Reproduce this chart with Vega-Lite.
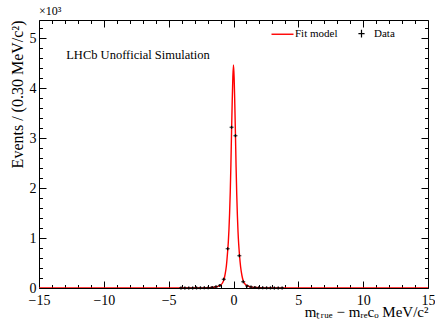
{
  "$schema": "https://vega.github.io/schema/vega-lite/v6.json",
  "width": 389,
  "height": 268,
  "autosize": {"type": "none"},
  "padding": {"left": 39, "top": 20, "right": 7, "bottom": 35},
  "background": "white",
  "title": {"text": "×10³", "anchor": "start", "frame": "group", "font": "Liberation Serif", "fontSize": 12, "fontWeight": "normal", "offset": 2, "color": "black"},
  "config": {
    "view": {"stroke": "black", "strokeWidth": 1},
    "axis": {"domain": false, "grid": false, "labelFont": "Liberation Serif", "titleFont": "Liberation Serif", "labelColor": "black", "titleColor": "black", "tickColor": "black", "labelFontSize": 14, "titleFontSize": 15, "titleFontWeight": "normal", "labelFlush": false, "labelOverlap": false},
    "legend": {"labelFont": "Liberation Serif", "labelFontSize": 11, "labelColor": "black"}
  },
  "datasets": {
    "curve": [
      {"x": -15, "y": 0}, {"x": -4, "y": 0}, {"x": -3, "y": 0.8}, {"x": -2.5, "y": 2}, {"x": -2, "y": 5},
      {"x": -1.7, "y": 10}, {"x": -1.4, "y": 20}, {"x": -1.2, "y": 33}, {"x": -1.05, "y": 50}, {"x": -0.95, "y": 68},
      {"x": -0.85, "y": 100}, {"x": -0.75, "y": 160}, {"x": -0.65, "y": 270}, {"x": -0.55, "y": 440}, {"x": -0.45, "y": 740},
      {"x": -0.4, "y": 920}, {"x": -0.35, "y": 1170}, {"x": -0.3, "y": 1500}, {"x": -0.25, "y": 1920}, {"x": -0.2, "y": 2470},
      {"x": -0.15, "y": 3130}, {"x": -0.1, "y": 3720}, {"x": -0.05, "y": 4220}, {"x": 0, "y": 4460}, {"x": 0.05, "y": 4200},
      {"x": 0.1, "y": 3680}, {"x": 0.15, "y": 3080}, {"x": 0.2, "y": 2420}, {"x": 0.25, "y": 1870}, {"x": 0.3, "y": 1450},
      {"x": 0.35, "y": 1120}, {"x": 0.4, "y": 880}, {"x": 0.45, "y": 700}, {"x": 0.55, "y": 420}, {"x": 0.65, "y": 250},
      {"x": 0.75, "y": 145}, {"x": 0.85, "y": 92}, {"x": 0.95, "y": 64}, {"x": 1.05, "y": 46}, {"x": 1.2, "y": 30},
      {"x": 1.4, "y": 18}, {"x": 1.7, "y": 9}, {"x": 2, "y": 4.5}, {"x": 2.5, "y": 1.8}, {"x": 3, "y": 0.7},
      {"x": 4, "y": 0}, {"x": 15, "y": 0}
    ],
    "bins": [
      {"x": -4.05, "n": 1}, {"x": -3.75, "n": 1}, {"x": -3.45, "n": 1}, {"x": -3.15, "n": 2}, {"x": -2.85, "n": 2},
      {"x": -2.55, "n": 3}, {"x": -2.25, "n": 4}, {"x": -1.95, "n": 6}, {"x": -1.65, "n": 12}, {"x": -1.35, "n": 24},
      {"x": -1.05, "n": 52}, {"x": -0.75, "n": 174}, {"x": -0.45, "n": 786}, {"x": -0.15, "n": 3214}, {"x": 0.15, "n": 3046},
      {"x": 0.45, "n": 646}, {"x": 0.75, "n": 126}, {"x": 1.05, "n": 42}, {"x": 1.35, "n": 20}, {"x": 1.65, "n": 11},
      {"x": 1.95, "n": 6}, {"x": 2.25, "n": 4}, {"x": 2.55, "n": 3}, {"x": 2.85, "n": 2}, {"x": 3.15, "n": 1},
      {"x": 3.45, "n": 1}, {"x": 3.75, "n": 1}
    ],
    "label": [{"x": -12.9, "y": 4590, "t": "LHCb Unofficial Simulation"}]
  },
  "resolve": {"axis": {"x": "independent", "y": "independent"}},
  "layer": [
    {
      "data": {"name": "curve"},
      "mark": {"type": "line", "strokeWidth": 1.4, "interpolate": "monotone", "clip": true},
      "encoding": {
        "x": {"field": "x", "type": "quantitative", "scale": {"domain": [-15, 15], "nice": false, "zero": false},
          "axis": {"orient": "bottom", "values": [-15,-14,-13,-12,-11,-10,-9,-8,-7,-6,-5,-4,-3,-2,-1,0,1,2,3,4,5,6,7,8,9,10,11,12,13,14,15],
            "labelExpr": "datum.value % 5 === 0 ? datum.label : ''",
            "tickSize": {"condition": {"test": "datum.value % 5 === 0", "value": -7}, "value": -3.5},
            "labelPadding": 12, "title": "mₜᵣᵤₑ − mᵣₑcₒ MeV/c²", "titleAnchor": "end", "titlePadding": -6}},
        "y": {"field": "y", "type": "quantitative", "scale": {"domain": [0, 5360], "nice": false, "zero": false},
          "axis": {"orient": "left", "values": [0,200,400,600,800,1000,1200,1400,1600,1800,2000,2200,2400,2600,2800,3000,3200,3400,3600,3800,4000,4200,4400,4600,4800,5000,5200],
            "labelExpr": "datum.value % 1000 === 0 ? format(datum.value/1000, 'd') : ''",
            "tickSize": {"condition": {"test": "datum.value % 1000 === 0", "value": -7}, "value": -3.5},
            "labelPadding": 10, "title": "Events / (0.30 MeV/c²)", "titleAnchor": "end", "titleFontSize": 16, "titlePadding": 4}},
        "color": {"datum": "Fit model", "type": "nominal",
          "scale": {"domain": ["Fit model", "Data"], "range": ["#ff0000", "#000000"]},
          "legend": {"title": null, "orient": "none", "legendX": 238, "legendY": 8, "direction": "horizontal",
            "symbolSize": 484, "labelOffset": 7, "columnPadding": 18, "padding": 0,
            "encode": {"symbols": {"update": {
              "shape": {"signal": "datum.value === 'Data' ? 'M-0.28,0H0.28M0,-0.35V0.35' : 'M-1,0H1'"},
              "strokeWidth": {"signal": "datum.value === 'Data' ? 1.2 : 1.4"},
              "fill": {"value": "transparent"}}}}}}
      }
    },
    {
      "data": {"name": "bins"},
      "mark": {"type": "tick", "orient": "horizontal", "size": 4, "thickness": 1.3},
      "encoding": {
        "x": {"field": "x", "type": "quantitative",
          "axis": {"orient": "top", "values": [-15,-14,-13,-12,-11,-10,-9,-8,-7,-6,-5,-4,-3,-2,-1,0,1,2,3,4,5,6,7,8,9,10,11,12,13,14,15],
            "labels": false, "title": null,
            "tickSize": {"condition": {"test": "datum.value % 5 === 0", "value": -7}, "value": -3.5}}},
        "y": {"field": "n", "type": "quantitative",
          "axis": {"orient": "right", "values": [0,200,400,600,800,1000,1200,1400,1600,1800,2000,2200,2400,2600,2800,3000,3200,3400,3600,3800,4000,4200,4400,4600,4800,5000,5200],
            "labels": false, "title": null,
            "tickSize": {"condition": {"test": "datum.value % 1000 === 0", "value": -7}, "value": -3.5}}},
        "color": {"datum": "Data", "type": "nominal"}
      }
    },
    {
      "data": {"name": "bins"},
      "mark": {"type": "point", "shape": "M0,-1V1", "size": 9, "strokeWidth": 1.3, "filled": false, "opacity": 1},
      "encoding": {
        "x": {"field": "x", "type": "quantitative", "axis": null},
        "y": {"field": "n", "type": "quantitative", "axis": null},
        "color": {"datum": "Data", "type": "nominal"}
      }
    },
    {
      "data": {"name": "label"},
      "mark": {"type": "text", "align": "left", "baseline": "alphabetic", "font": "Liberation Serif", "fontSize": 12.5, "color": "black"},
      "encoding": {
        "x": {"field": "x", "type": "quantitative", "axis": null},
        "y": {"field": "y", "type": "quantitative", "axis": null},
        "text": {"field": "t"}
      }
    }
  ]
}
